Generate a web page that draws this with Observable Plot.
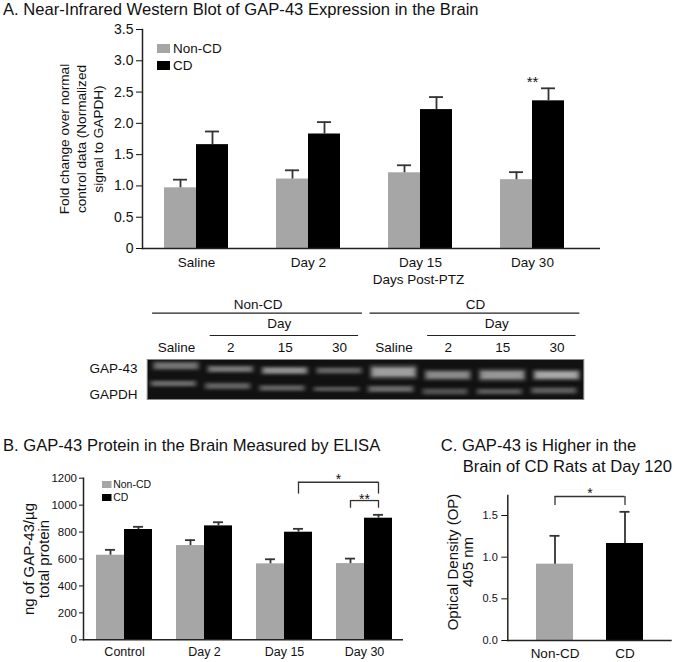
<!DOCTYPE html>
<html><head><meta charset="utf-8">
<script src="https://cdn.jsdelivr.net/npm/d3@7"></script>
<script src="https://cdn.jsdelivr.net/npm/@observablehq/plot@0.6"></script>
<style>
body{margin:0;background:#fff;}
#root{position:relative;width:675px;height:662px;overflow:hidden;font-family:"Liberation Sans",Arial,sans-serif;color:#111;background:#fff;}
.abs{position:absolute;left:0;}
.title{position:absolute;font-size:16.6px;line-height:1;white-space:nowrap;color:#111;}
.lga-swatches,.lgb-swatches{font-family:"Liberation Sans",Arial,sans-serif;margin:0 !important;color:#111;}
.lga-swatches{font-size:13.5px;}
.lgb-swatches{font-size:10.5px;}
.lga-swatch{padding-bottom:0 !important;height:17px;line-height:17px;}
.lgb-swatch{padding-bottom:0 !important;height:12.7px;line-height:12.7px;}
.lga-swatch > svg{margin-right:3px !important;}
.lgb-swatch > svg{margin-right:2px !important;}
</style></head><body><div id="root"></div>
<script>
const FONT = '"Liberation Sans", Arial, sans-serif';
const seriesNames = ["Non-CD", "CD"];
const seriesColors = ["#a6a6a6", "#000000"];

// ---- Panel A: Western blot quantification ----
const titleA = "A. Near-Infrared Western Blot of GAP-43 Expression in the Brain";
const groupsA = ["Saline", "Day 2", "Day 15", "Day 30"];
const nonCdA = [0.97, 1.11, 1.21, 1.10];
const nonCdErrA = [0.13, 0.14, 0.12, 0.12];
const cdA = [1.66, 1.83, 2.22, 2.36];
const cdErrA = [0.21, 0.19, 0.20, 0.20];
const yTicksA = [0, 0.5, 1, 1.5, 2, 2.5, 3, 3.5];
const yLabelA = "Fold change over normal\ncontrol data (Normalized\nsignal to GAPDH)";
const xLabelA = "Days Post-PTZ";
const sigA = [{i: 3, y: 2.72, label: "**"}];

// ---- Blot image ----
const laneLabels = ["Saline", "2", "15", "30", "Saline", "2", "15", "30"];
const gap43Pos = [6.7, 10, 11.5, 11.5, 13, 16, 16, 16];
const gap43Thick = [6, 5, 5.5, 5, 9, 7, 8, 7];
const gap43Int = [0.55, 0.58, 0.72, 0.45, 0.8, 0.68, 0.75, 0.85];
const gapdhPos = [24.5, 27, 29, 30, 30, 32.5, 32.5, 31.5];
const gapdhThick = [4.5, 5, 4.5, 3.5, 5, 5, 4.5, 5];
const gapdhInt = [0.5, 0.45, 0.45, 0.4, 0.5, 0.35, 0.4, 0.42];
const blotGroups = [{label: "Non-CD", from: 0, to: 3}, {label: "CD", from: 4, to: 7}];
const blotDays = [{label: "Day", from: 1, to: 3}, {label: "Day", from: 5, to: 7}];
const blotRows = ["GAP-43", "GAPDH"];

// ---- Panel B: ELISA ----
const titleB = "B. GAP-43 Protein in the Brain Measured by ELISA";
const groupsB = ["Control", "Day 2", "Day 15", "Day 30"];
const nonCdB = [628, 700, 564, 566];
const nonCdErrB = [40, 40, 34, 37];
const cdB = [819, 846, 799, 903];
const cdErrB = [20, 27, 25, 25];
const yTicksB = [0, 200, 400, 600, 800, 1000, 1200];
const yLabelB = "ng of GAP-43/\u00b5g\ntotal protein";
const bracketsB = [
  {i1: 2, s1: "CD", i2: 3, s2: "CD", y: 1170, leg: 1082, ly: 1215, label: "*"},
  {i1: 3, s1: "Non-CD", i2: 3, s2: "CD", y: 1034, leg: 977, ly: 1071, label: "**"}
];

// ---- Panel C: Day 120 ----
const titleC1 = "C. GAP-43 is Higher in the";
const titleC2 = "Brain of CD Rats at Day 120";
const groupsC = ["Non-CD", "CD"];
const valuesC = [0.916, 1.164];
const errC = [0.34, 0.38];
const yTicksC = [0, 0.5, 1, 1.5];
const yLabelC = "Optical Density (OP)\n405 nm";
const bracketC = [{i1: 0, i2: 1, y: 1.728, leg: 1.62, ly: 1.80, label: "*"}];

// ---------------------------------------------------------------
const root = document.getElementById("root");
function place(node, top, left = 0) {
  const wrap = document.createElement("div");
  wrap.className = "abs";
  wrap.style.top = top + "px";
  wrap.style.left = left + "px";
  wrap.appendChild(node);
  root.appendChild(wrap);
  return wrap;
}
function title(lines, left, top) {
  const d = document.createElement("div");
  d.className = "title";
  d.style.left = left + "px";
  d.style.top = top + "px";
  d.innerHTML = lines;
  root.appendChild(d);
}
const pairRows = (a, ae, b, be) => a.flatMap((v, i) => [
  {i, series: "Non-CD", v, e: ae[i]},
  {i, series: "CD", v: b[i], e: be[i]}
]);
const colorScale = {domain: seriesNames, range: seriesColors};
const errStyle = {stroke: "#333", strokeWidth: 1.8};
const mid = {textAnchor: "middle", lineAnchor: "middle"};

function barMarks(rows, bw, cap, paired) {
  const x1 = d => paired ? d.i + (d.series === "CD" ? 0 : -bw) : d.i - bw / 2;
  const cx = d => x1(d) + bw / 2;
  return [
    Plot.rect(rows, {x1, x2: d => x1(d) + bw, y1: 0, y2: "v", fill: "series"}),
    Plot.ruleX(rows, {x: cx, y1: "v", y2: d => d.v + d.e, ...errStyle}),
    Plot.ruleY(rows, {x1: d => cx(d) - cap / 2, x2: d => cx(d) + cap / 2, y: d => d.v + d.e, ...errStyle})
  ];
}
const axisLine = [
  Plot.ruleY([0], {stroke: "#222", strokeWidth: 1.5}),
  Plot.frame({anchor: "left", stroke: "#222", strokeWidth: 1.5})
];

// ---------- Panel A ----------
title(titleA, 3, 2);
const rowsA = pairRows(nonCdA, nonCdErrA, cdA, cdErrA);
const bwA = 32 / 112, capA = 14 / 112;
const plotA = Plot.plot({
  width: 675, height: 290,
  marginLeft: 142, marginRight: 75, marginTop: 29, marginBottom: 42,
  style: {background: "transparent", fontFamily: FONT, fontSize: "13.5px", color: "#111", overflow: "visible"},
  x: {domain: [0, 3], range: [196, 532]},
  y: {domain: [0, 3.5]},
  color: colorScale,
  marks: [
    ...barMarks(rowsA, bwA, capA, true),
    ...axisLine,
    Plot.axisY({ticks: yTicksA, tickFormat: d => d === 0 ? "0" : d.toFixed(1), tickSize: 6, tickPadding: 3, fontSize: 14, label: null}),
    Plot.axisX({ticks: [0, 1, 2, 3], tickFormat: i => groupsA[i], tickSize: 0, tickPadding: 9, fontSize: 13.5, label: null}),
    Plot.text([yLabelA], {text: d => d, frameAnchor: "left", rotate: -90, dx: -62, lineHeight: 1.28, fontSize: 13.6, ...mid}),
    Plot.text([xLabelA], {text: d => d, frameAnchor: "bottom", dx: 47, dy: 31.5, fontSize: 13.5, ...mid}),
    Plot.text(sigA, {x: "i", y: "y", text: "label", dy: 3.5, fontSize: 15, ...mid})
  ]
});
place(plotA, 0);
const legA = Plot.legend({color: colorScale, legend: "swatches", columns: 1, swatchWidth: 13, swatchHeight: 9, className: "lga"});
const wA = place(legA, 40, 157); wA.style.width = "100px";

// ---------- Blot ----------
const bandHalf = 0.4;
const bands = [
  ...gap43Pos.map((p, i) => ({lane: i, shift: 0, pos: p, t: gap43Thick[i], int: gap43Int[i]})),
  ...gapdhPos.map((p, i) => ({lane: i, shift: -0.05, pos: p, t: gapdhThick[i], int: gapdhInt[i]}))
];
const blot = Plot.plot({
  width: 675, height: 120,
  marginLeft: 146.7, marginRight: 91.7, marginTop: 69, marginBottom: 11,
  style: {background: "transparent", fontFamily: FONT, fontSize: "13.5px", color: "#111", overflow: "visible"},
  x: {domain: [0, 7], range: [176, 556.5], axis: null},
  y: {domain: [0, 40], reverse: true, axis: null},
  color: {type: "linear", domain: [0, 1], range: ["#151515", "#d2d2d2"]},
  marks: [
    Plot.frame({fill: "#111", stroke: "#8a8a8a", strokeWidth: 1}),
    Plot.rect(bands, {x1: d => d.lane + d.shift - bandHalf - 0.03, x2: d => d.lane + d.shift + bandHalf + 0.03,
      y1: d => d.pos - d.t * 0.85, y2: d => d.pos + d.t * 0.85, fill: "int", fillOpacity: 0.3}),
    Plot.rect(bands, {x1: d => d.lane + d.shift - bandHalf, x2: d => d.lane + d.shift + bandHalf,
      y1: d => d.pos - d.t / 2, y2: d => d.pos + d.t / 2, fill: "int", fillOpacity: 0.8}),
    Plot.rect(bands, {x1: d => d.lane + d.shift - bandHalf * 0.8, x2: d => d.lane + d.shift + bandHalf * 0.8,
      y1: d => d.pos - d.t / 5, y2: d => d.pos + d.t / 5, fill: "int", fillOpacity: 0.5}),
    Plot.text(laneLabels, {x: (d, i) => i, text: d => d, frameAnchor: "top", dy: -12, fontSize: 13.5, ...mid}),
    Plot.ruleY(blotGroups, {x1: d => d.from - 0.44, x2: d => d.to + 0.42, y: 0, dy: -46.3, stroke: "#222", strokeWidth: 1.2}),
    Plot.text(blotGroups, {x: d => (d.from + d.to) / 2, text: "label", frameAnchor: "top", dy: -54.8, fontSize: 13.5, ...mid}),
    Plot.ruleY(blotDays, {x1: d => d.from - 0.38, x2: d => d.to + 0.35, y: 0, dy: -24, stroke: "#222", strokeWidth: 1.2}),
    Plot.text(blotDays, {x: d => (d.from + d.to) / 2, text: "label", frameAnchor: "top", dx: -6, dy: -36, fontSize: 13.5, ...mid}),
    Plot.text([blotRows[0]], {text: d => d, frameAnchor: "top-left", textAnchor: "end", lineAnchor: "middle", dx: -9.7, dy: 9, fontSize: 13.5}),
    Plot.text([blotRows[1]], {text: d => d, frameAnchor: "bottom-left", textAnchor: "end", lineAnchor: "middle", dx: -9.7, dy: -5, fontSize: 13.5})
  ]
});
place(blot, 290);
// soft blur for the gel bands
(function addBlur(svg) {
  const ns = "http://www.w3.org/2000/svg";
  const defs = document.createElementNS(ns, "defs");
  const f = document.createElementNS(ns, "filter");
  f.setAttribute("id", "gelblur");
  f.setAttribute("filterUnits", "userSpaceOnUse");
  f.setAttribute("x", "140"); f.setAttribute("y", "60");
  f.setAttribute("width", "450"); f.setAttribute("height", "55");
  const g = document.createElementNS(ns, "feGaussianBlur");
  g.setAttribute("stdDeviation", "2 1.3");
  f.appendChild(g); defs.appendChild(f); svg.insertBefore(defs, svg.firstChild);
  svg.querySelectorAll("g[aria-label='rect']").forEach(gr => gr.setAttribute("filter", "url(#gelblur)"));
})(blot);

// ---------- Panel B ----------
title(titleB, 3, 438);
const rowsB = pairRows(nonCdB, nonCdErrB, cdB, cdErrB);
const bwB = 28 / 80, capB = 10 / 80;
const posB = (i, s) => i + (s === "CD" ? bwB / 2 : -bwB / 2);
const plotB = Plot.plot({
  width: 675, height: 222,
  marginLeft: 83, marginRight: 272, marginTop: 37.7, marginBottom: 22.7,
  style: {background: "transparent", fontFamily: FONT, fontSize: "12.5px", color: "#111", overflow: "visible"},
  x: {domain: [0, 3], range: [124, 364]},
  y: {domain: [0, 1200]},
  color: colorScale,
  marks: [
    ...barMarks(rowsB, bwB, capB, true),
    ...axisLine,
    Plot.axisY({ticks: yTicksB, tickSize: 4, tickPadding: 2.5, fontSize: 11.5, label: null, tickFormat: d => String(d)}),
    Plot.axisX({ticks: [0, 1, 2, 3], tickFormat: i => groupsB[i], tickSize: 0, tickPadding: 7.6, fontSize: 12.5, label: null}),
    Plot.text([yLabelB], {text: d => d, frameAnchor: "left", rotate: -90, dx: -47, lineHeight: 1.0, fontSize: 15, ...mid}),
    Plot.ruleY(bracketsB, {x1: d => posB(d.i1, d.s1), x2: d => posB(d.i2, d.s2), y: "y", stroke: "#333", strokeWidth: 1.3}),
    Plot.ruleX(bracketsB, {x: d => posB(d.i1, d.s1), y1: "leg", y2: "y", stroke: "#333", strokeWidth: 1.3}),
    Plot.ruleX(bracketsB, {x: d => posB(d.i2, d.s2), y1: "leg", y2: "y", stroke: "#333", strokeWidth: 1.3}),
    Plot.text(bracketsB, {x: d => (posB(d.i1, d.s1) + posB(d.i2, d.s2)) / 2, y: "ly", text: "label", dy: 3.5, fontSize: 14, ...mid})
  ]
});
place(plotB, 440);
const legB = Plot.legend({color: colorScale, legend: "swatches", columns: 1, swatchWidth: 9.5, swatchHeight: 7, className: "lgb"});
const wB = place(legB, 478, 101.7); wB.style.width = "80px";

// ---------- Panel C ----------
title(titleC1 + '<div style="padding-left:22px;margin-top:4px">' + titleC2 + "</div>", 440.7, 438);
const rowsC = groupsC.map((g, i) => ({i, series: g, v: valuesC[i], e: errC[i]}));
const bwC = 37 / 70, capC = 10 / 70;
const plotC = Plot.plot({
  width: 675, height: 222,
  marginLeft: 507.3, marginRight: 3.3, marginTop: 55, marginBottom: 22,
  style: {background: "transparent", fontFamily: FONT, fontSize: "13.5px", color: "#111", overflow: "visible"},
  x: {domain: [0, 1], range: [554.5, 624.5]},
  y: {domain: [0, 1.74]},
  color: colorScale,
  marks: [
    ...barMarks(rowsC, bwC, capC, false),
    ...axisLine,
    Plot.axisY({ticks: yTicksC, tickFormat: d => d.toFixed(1), tickSize: 6, tickPadding: 4, fontSize: 11, label: null}),
    Plot.axisX({ticks: [0, 1], tickFormat: i => groupsC[i], tickSize: 0, tickPadding: 7.5, fontSize: 13.5, label: null}),
    Plot.text([yLabelC], {text: d => d, frameAnchor: "left", rotate: -90, dx: -47.6, dy: -6, lineHeight: 1.0, fontSize: 15, ...mid}),
    Plot.ruleY(bracketC, {x1: "i1", x2: "i2", y: "y", stroke: "#333", strokeWidth: 1.3}),
    Plot.ruleX(bracketC, {x: "i1", y1: "leg", y2: "y", stroke: "#333", strokeWidth: 1.3}),
    Plot.ruleX(bracketC, {x: "i2", y1: "leg", y2: "y", stroke: "#333", strokeWidth: 1.3}),
    Plot.text(bracketC, {x: d => (d.i1 + d.i2) / 2, y: "ly", text: "label", dy: 3.5, fontSize: 14, ...mid})
  ]
});
place(plotC, 440);
</script></body></html>
